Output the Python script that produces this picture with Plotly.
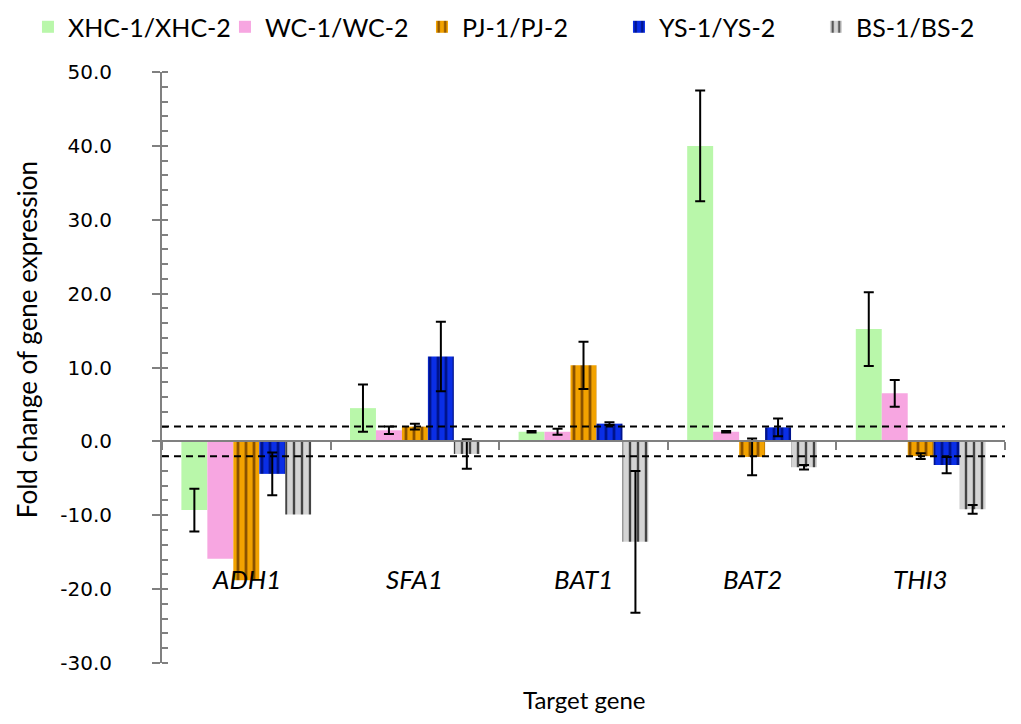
import plotly.graph_objects as go

genes = ["ADH1", "SFA1", "BAT1", "BAT2", "THI3"]
series_names = ["XHC-1/XHC-2", "WC-1/WC-2", "PJ-1/PJ-2", "YS-1/YS-2", "BS-1/BS-2"]

xhc_vals = [-9.3, 4.5, 1.3, 40.0, 15.2]
xhc_err = [2.9, 3.2, 0.1, 7.5, 5.0]
wc_vals = [-15.9, 1.5, 1.3, 1.3, 6.5]
wc_err = [None, 0.5, 0.4, 0.1, 1.8]
pj_vals = [-18.8, 2.0, 10.3, -2.1, -2.0]
pj_err = [None, 0.4, 3.2, 2.5, 0.4]
ys_vals = [-4.4, 11.5, 2.4, 1.9, -3.2]
ys_err = [2.9, 4.7, 0.2, 1.2, 1.1]
bs_vals = [-9.9, -1.7, -13.6, -3.5, -9.2]
bs_err = [None, 2.0, 9.6, 0.3, 0.6]

thresholds = [2.0, -2.0]
y_ticks = [-30, -20, -10, 0, 10, 20, 30, 40, 50]
y_tick_text = [f"{v:.1f}" for v in y_ticks]

values = [xhc_vals, wc_vals, pj_vals, ys_vals, bs_vals]
errors = [xhc_err, wc_err, pj_err, ys_err, bs_err]
colors = ["#b9f7aa", "#f7a6e1", "#f2a200", "#0a2ee6", "#d4d4d4"]
patterns = [None, None, ("#8a5200", 0.35), ("#00138c", 0.35), ("#444444", 0.3)]

fig = go.Figure()
for name, vals, errs, col, pat in zip(series_names, values, errors, colors, patterns):
    marker = dict(color=col, line=dict(width=0))
    if pat is not None:
        marker["pattern"] = dict(shape="|", fgcolor=pat[0], fgopacity=1,
                                 size=8, solidity=pat[1], fillmode="overlay")
    # missing error values -> "NaN" so plotly.js skips drawing them
    err_plot = [e if e is not None else "NaN" for e in errs]
    fig.add_trace(go.Bar(
        x=genes, y=vals, name=name, marker=marker,
        error_y=dict(type="data", array=err_plot, visible=True,
                     color="black", thickness=2, width=5),
    ))

for t in thresholds:
    fig.add_shape(type="line", xref="paper", yref="y", x0=0, x1=1, y0=t, y1=t,
                  line=dict(color="black", width=2, dash="7px,5px"))

for g in genes:
    fig.add_annotation(x=g, y=-18.6, xref="x", yref="y", text=f"<i>{g}</i>",
                       showarrow=False, font=dict(family="Lato", size=26, color="black"))

fig.add_annotation(x=0.5, y=-0.0626, xref="paper", yref="paper", text="Target gene",
                   showarrow=False, xanchor="center", yanchor="middle",
                   font=dict(family="Lato", size=24, color="black"))
fig.add_annotation(x=-0.160, y=0.5465, xref="paper", yref="paper",
                   text="Fold change of gene expression", textangle=-90,
                   showarrow=False, xanchor="center", yanchor="middle",
                   font=dict(family="Lato", size=26, color="black"))

fig.update_layout(
    width=1021, height=724,
    margin=dict(l=154, r=24, t=64, b=69, autoexpand=False),
    plot_bgcolor="white", paper_bgcolor="white",
    barmode="group", bargap=0.23, bargroupgap=0,
    showlegend=True,
    legend=dict(orientation="h", xref="paper", yref="paper",
                x=-0.159, y=1.115, xanchor="left", yanchor="top",
                font=dict(family="Lato", size=25, color="black"),
                entrywidth=152, entrywidthmode="pixels",
                itemwidth=30, tracegroupgap=0),
    xaxis=dict(type="category", range=[-0.5, 4.5], anchor="free", position=0.375,
               showline=True, linecolor="#808080", linewidth=2,
               ticks="outside", tickson="boundaries", ticklen=8,
               tickcolor="#808080", tickwidth=2,
               showticklabels=False, showgrid=False, zeroline=False),
    yaxis=dict(range=[-30, 50], tickvals=y_ticks, ticktext=y_tick_text,
               showline=True, linecolor="#808080", linewidth=2,
               ticks="outside", ticklen=8, tickcolor="#808080", tickwidth=2,
               ticklabelstandoff=36,
               minor=dict(dtick=2, ticks="inside", ticklen=6,
                          tickcolor="#808080", tickwidth=1.5),
               showgrid=False, zeroline=False,
               tickfont=dict(family="DejaVu Sans", size=20, color="black")),
)

fig.write_html("out.html")
